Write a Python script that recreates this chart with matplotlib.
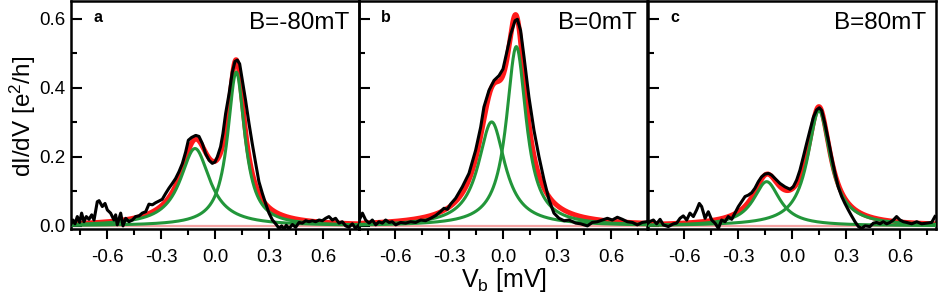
import numpy as np
import matplotlib
matplotlib.use("Agg")
import matplotlib.pyplot as plt
from matplotlib.ticker import MultipleLocator

plt.rcParams['font.family'] = ['Liberation Sans', 'DejaVu Sans']
plt.rcParams['mathtext.fontset'] = 'custom'
plt.rcParams['mathtext.rm'] = 'Liberation Sans'
plt.rcParams['mathtext.it'] = 'Liberation Sans:italic'
plt.rcParams['mathtext.default'] = 'regular'
plt.rcParams['axes.unicode_minus'] = False

# ---------------- data ----------------
panel_letters = ['a', 'b', 'c']
field_labels = ['B=-80mT', 'B=0mT', 'B=80mT']

# Lorentzian fit parameters (center [mV], height [e^2/h], half width [mV]) per panel
fit_centers = [[-0.111, 0.118], [-0.063, 0.074], [-0.141, 0.150]]
fit_heights = [[0.224, 0.445], [0.301, 0.519], [0.128, 0.334]]
fit_widths = [[0.100, 0.058], [0.090, 0.067], [0.090, 0.077]]

# measured dI/dV traces
va = [-0.802, -0.789, -0.778, -0.765, -0.752, -0.741, -0.728, -0.715, -0.700, -0.685,
      -0.672, -0.654, -0.644, -0.626, -0.611, -0.598, -0.580, -0.561, -0.552, -0.543,
      -0.524, -0.511, -0.496, -0.478, -0.459, -0.441, -0.422, -0.404, -0.385, -0.367,
      -0.348, -0.330, -0.311, -0.293, -0.274, -0.256, -0.237, -0.219, -0.200, -0.181,
      -0.163, -0.148, -0.130, -0.107, -0.089, -0.070, -0.052, -0.033, -0.015, 0.000,
      0.013, 0.031, 0.044, 0.059, 0.078, 0.096, 0.111, 0.124, 0.137, 0.152,
      0.170, 0.189, 0.207, 0.226, 0.244, 0.263, 0.281, 0.300, 0.319, 0.337,
      0.356, 0.370, 0.383, 0.396, 0.411, 0.430, 0.448, 0.467, 0.485, 0.504,
      0.522, 0.541, 0.559, 0.578, 0.596, 0.615, 0.633, 0.652, 0.670, 0.689,
      0.707, 0.726, 0.744, 0.763, 0.781, 0.800]
ga = [0.003, 0.017, 0.006, 0.027, 0.010, 0.037, 0.012, 0.027, 0.019, 0.032,
      0.017, 0.070, 0.073, 0.056, 0.065, 0.046, 0.037, 0.017, 0.032, 0.003,
      0.037, 0.000, 0.022, 0.012, 0.017, 0.027, 0.029, 0.037, 0.041, 0.063,
      0.061, 0.067, 0.072, 0.077, 0.094, 0.109, 0.123, 0.137, 0.157, 0.181,
      0.214, 0.248, 0.256, 0.262, 0.259, 0.238, 0.209, 0.190, 0.181, 0.185,
      0.200, 0.229, 0.267, 0.325, 0.382, 0.445, 0.476, 0.480, 0.469, 0.421,
      0.363, 0.296, 0.238, 0.181, 0.128, 0.094, 0.065, 0.037, 0.017, 0.006,
      -0.007, 0.000, -0.010, 0.002, -0.008, 0.004, -0.004, 0.010, 0.008, 0.015,
      0.012, 0.015, 0.012, 0.017, 0.015, 0.022, 0.027, 0.017, 0.022, 0.008,
      0.012, 0.000, -0.004, 0.006, -0.007, 0.003]

vb = [-0.806, -0.781, -0.763, -0.744, -0.726, -0.707, -0.689, -0.670, -0.652, -0.633,
      -0.615, -0.596, -0.569, -0.541, -0.513, -0.485, -0.457, -0.430, -0.402, -0.374,
      -0.346, -0.328, -0.309, -0.291, -0.263, -0.226, -0.189, -0.152, -0.124, -0.106,
      -0.078, -0.050, -0.022, 0.000, 0.019, 0.043, 0.067, 0.080, 0.098, 0.117,
      0.144, 0.172, 0.200, 0.228, 0.256, 0.283, 0.311, 0.339, 0.367, 0.404,
      0.431, 0.469, 0.496, 0.524, 0.552, 0.580, 0.607, 0.635, 0.663, 0.691,
      0.719, 0.746, 0.774, 0.798]
gb = [0.008, 0.037, 0.017, 0.008, 0.017, 0.003, 0.012, 0.008, 0.017, 0.010,
      0.012, 0.003, 0.010, 0.008, 0.012, 0.010, 0.017, 0.015, 0.022, 0.030,
      0.042, 0.051, 0.048, 0.063, 0.080, 0.113, 0.152, 0.219, 0.286, 0.344,
      0.392, 0.421, 0.435, 0.454, 0.498, 0.555, 0.594, 0.598, 0.565, 0.488,
      0.373, 0.277, 0.200, 0.133, 0.075, 0.037, 0.022, 0.015, 0.017, 0.008,
      0.006, 0.000, 0.010, 0.012, 0.017, 0.022, 0.017, 0.025, 0.019, 0.012,
      0.010, 0.003, 0.010, 0.012]

vc = [-0.800, -0.793, -0.770, -0.752, -0.733, -0.715, -0.687, -0.659, -0.641, -0.622,
      -0.604, -0.585, -0.567, -0.548, -0.530, -0.515, -0.502, -0.483, -0.465, -0.446,
      -0.428, -0.409, -0.391, -0.372, -0.354, -0.335, -0.317, -0.298, -0.280, -0.261,
      -0.243, -0.224, -0.206, -0.187, -0.169, -0.150, -0.131, -0.113, -0.094, -0.067,
      -0.039, -0.011, 0.007, 0.026, 0.044, 0.063, 0.081, 0.100, 0.119, 0.137,
      0.152, 0.165, 0.183, 0.202, 0.220, 0.239, 0.257, 0.276, 0.294, 0.313,
      0.331, 0.350, 0.369, 0.387, 0.406, 0.433, 0.452, 0.470, 0.489, 0.507,
      0.526, 0.544, 0.563, 0.581, 0.600, 0.619, 0.637, 0.665, 0.693, 0.720,
      0.748, 0.776, 0.794]
gc = [0.008, 0.012, 0.017, 0.006, 0.019, 0.003, -0.002, 0.006, 0.008, 0.022,
      0.029, 0.017, 0.037, 0.027, 0.046, 0.065, 0.056, 0.022, 0.041, 0.017,
      0.008, -0.007, 0.017, 0.012, 0.027, 0.019, 0.037, 0.056, 0.070, 0.085,
      0.089, 0.096, 0.109, 0.128, 0.142, 0.150, 0.152, 0.147, 0.137, 0.123,
      0.113, 0.106, 0.113, 0.133, 0.161, 0.200, 0.238, 0.277, 0.315, 0.336,
      0.342, 0.334, 0.296, 0.248, 0.200, 0.152, 0.113, 0.085, 0.065, 0.046,
      0.029, 0.012, -0.002, -0.007, 0.000, -0.002, 0.008, 0.010, 0.006, 0.012,
      0.006, 0.010, 0.017, 0.027, 0.017, 0.012, 0.010, 0.006, 0.012, 0.006,
      0.008, 0.010, 0.027]

data_v = [va, vb, vc]
data_g = [ga, gb, gc]

# ---------------- figure ----------------
W, H = 939, 302
fig = plt.figure(figsize=(W / 100, H / 100), dpi=100)

lefts = [71, 359, 648]
ax_w = 288
ax_bottom = 73
ax_h = 228

red = '#ff1a1a'
green = '#22963a'
pink = '#f4a3a3'

xfine = np.linspace(-0.8, 0.8, 801)

for i in range(3):
    ax = fig.add_axes([lefts[i] / W, ax_bottom / H, ax_w / W, ax_h / H])
    comps = []
    for c, h, w in zip(fit_centers[i], fit_heights[i], fit_widths[i]):
        comps.append(h / (1.0 + ((xfine - c) / w) ** 2))
    total = comps[0] + comps[1]
    ax.axhline(0.0, color=pink, lw=1.6, zorder=1)
    ax.plot(xfine, total, color=red, lw=3.6, zorder=2, solid_capstyle='butt')
    for comp in comps:
        ax.plot(xfine, comp, color=green, lw=2.2, zorder=3)
    ax.plot(data_v[i], data_g[i], color='black', lw=2.2, zorder=4,
            solid_joinstyle='round')

    ax.set_xlim(-0.8, 0.8)
    ax.set_ylim(-0.009, 0.651)
    ax.xaxis.set_major_locator(MultipleLocator(0.3))
    ax.xaxis.set_minor_locator(MultipleLocator(0.15))
    ax.yaxis.set_major_locator(MultipleLocator(0.2))
    ax.yaxis.set_minor_locator(MultipleLocator(0.1))
    ax.xaxis.set_major_formatter(plt.FuncFormatter(lambda v, p: f"{v:.1f}"))
    ax.yaxis.set_major_formatter(plt.FuncFormatter(lambda v, p: f"{v:.1f}"))
    ax.tick_params(axis='x', which='major', direction='out', length=7, width=1.5,
                   labelsize=13.5, pad=7.5)
    ax.tick_params(axis='x', which='minor', direction='out', length=4.5, width=1.5)
    ax.tick_params(axis='y', which='major', direction='in', length=8, width=1.5,
                   labelsize=13.5, pad=4)
    ax.tick_params(axis='y', which='minor', direction='in', length=4.5, width=1.5)
    if i > 0:
        ax.tick_params(axis='y', which='both', labelleft=False)
    for s in ax.spines.values():
        s.set_linewidth(1.8)
    ax.patch.set_alpha(0)

    ax.text(22 / ax_w, (ax_h - 21) / ax_h, panel_letters[i], transform=ax.transAxes,
            fontsize=11.5, fontweight='bold', ha='left', va='baseline')
    ax.text(1 - 10 / ax_w, (ax_h - 28) / ax_h, field_labels[i], transform=ax.transAxes,
            fontsize=17.5, ha='right', va='baseline')

fig.text(23 / W, 1 - 116 / H, 'dI/dV [e$^{2}$/h]', rotation=90, ha='center', va='center',
         fontsize=17.5)
fig.text(504 / W, 1 - 280 / H, 'V$_{b}$ [mV]', ha='center', va='center', fontsize=18)

fig.savefig('out.png', dpi=100)
